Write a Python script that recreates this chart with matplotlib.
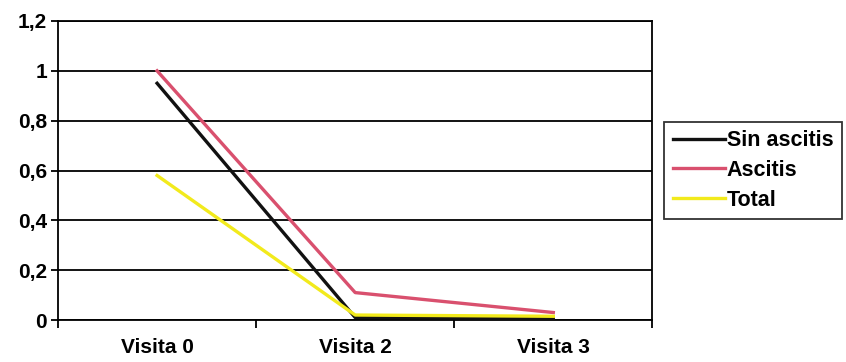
import matplotlib
matplotlib.use("Agg")
import matplotlib.pyplot as plt
import numpy as np

categories = ["Visita 0", "Visita 2", "Visita 3"]
sin_ascitis = [0.95, 0.01, 0.005]
ascitis = [1.0, 0.11, 0.03]
total = [0.58, 0.02, 0.015]
yticks = [0, 0.2, 0.4, 0.6, 0.8, 1.0, 1.2]
ytick_labels = ["0", "0,2", "0,4", "0,6", "0,8", "1", "1,2"]

plt.rcParams['font.family'] = ['Liberation Sans', 'DejaVu Sans']
fig = plt.figure(figsize=(8.46, 3.62), dpi=100)
ax = fig.add_axes([0.0686, 0.116, 0.7025, 0.826])

x = np.arange(len(categories))
ax.plot(x, sin_ascitis, color="#111111", lw=2.4, label="Sin ascitis", zorder=3)
ax.plot(x, ascitis, color="#d9506e", lw=2.4, label="Ascitis", zorder=2)
ax.plot(x, total, color="#f2ea1c", lw=2.4, label="Total", zorder=4)

ax.set_xlim(-0.5, 2.5)
ax.set_ylim(0, 1.2)
ax.set_yticks(yticks)
ax.set_yticklabels(ytick_labels, fontsize=15, fontweight="bold")
ax.set_xticks(x)
ax.set_xticklabels(categories, fontsize=15, fontweight="bold")
ax.tick_params(axis="x", length=0, pad=13)
ax.set_xticks([-0.5, 0.5, 1.5, 2.5], minor=True)
ax.tick_params(axis="x", which="minor", length=6, width=1.3, direction="out")
ax.tick_params(axis="y", length=5, width=1.3, direction="out", pad=3)
ax.yaxis.grid(True, color="black", lw=1.3)
for s in ax.spines.values():
    s.set_color("black")
    s.set_linewidth(1.3)

leg = ax.legend(loc="center left", bbox_to_anchor=(1.02, 0.5), frameon=True,
                fancybox=False, edgecolor="black", prop={"weight": "bold", "size": 15.5},
                handlelength=2.4, handletextpad=0.1, borderpad=0.4, labelspacing=0.4,
                borderaxespad=0)
leg.get_frame().set_linewidth(1.3)

fig.savefig("out.png", dpi=100)
